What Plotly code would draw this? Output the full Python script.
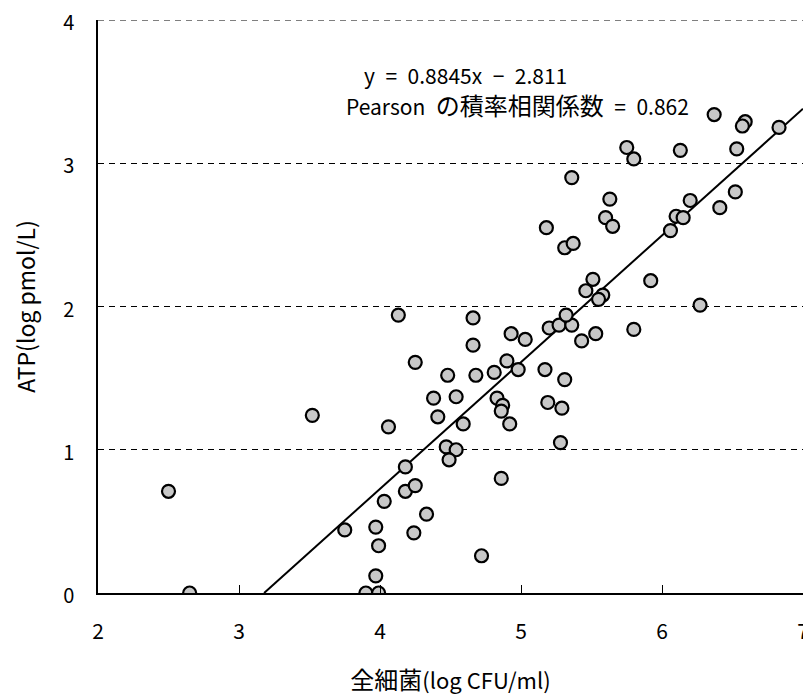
import plotly.graph_objects as go

# Data
x_vals = [2.50, 2.65, 3.52, 3.75, 3.90, 3.99, 3.97, 3.99, 3.97, 4.03,
          4.06, 4.18, 4.18, 4.25, 4.33, 4.24, 4.72, 4.86, 4.47, 4.54,
          4.49, 4.38, 4.54, 4.41, 4.59, 4.83, 4.87, 4.86, 4.92, 4.13,
          4.66, 4.66, 4.93, 5.03, 4.25, 4.48, 4.68, 4.81, 4.90, 4.98,
          5.17, 5.31, 5.19, 5.29, 5.28, 5.20, 5.27, 5.36, 5.32, 5.43,
          5.53, 5.80, 5.18, 5.31, 5.37, 5.60, 5.65, 6.10, 6.06, 5.51,
          5.46, 5.58, 5.55, 5.92, 6.27, 6.37, 6.59, 6.57, 6.83, 6.53,
          6.13, 5.75, 5.80, 5.36, 5.63, 6.52, 6.41, 6.20, 6.15]
y_vals = [0.71, 0.00, 1.24, 0.44, 0.00, 0.00, 0.12, 0.33, 0.46, 0.64,
          1.16, 0.88, 0.71, 0.75, 0.55, 0.42, 0.26, 0.80, 1.02, 1.00,
          0.93, 1.36, 1.37, 1.23, 1.18, 1.36, 1.31, 1.27, 1.18, 1.94,
          1.92, 1.73, 1.81, 1.77, 1.61, 1.52, 1.52, 1.54, 1.62, 1.56,
          1.56, 1.49, 1.33, 1.29, 1.05, 1.85, 1.87, 1.87, 1.94, 1.76,
          1.81, 1.84, 2.55, 2.41, 2.44, 2.62, 2.56, 2.63, 2.53, 2.19,
          2.11, 2.08, 2.05, 2.18, 2.01, 3.34, 3.29, 3.26, 3.25, 3.10,
          3.09, 3.11, 3.03, 2.90, 2.75, 2.80, 2.69, 2.74, 2.62]

slope = 0.8845
intercept = -2.811
r_value = 0.862

x_ticks = [2, 3, 4, 5, 6, 7]
y_ticks = [0, 1, 2, 3, 4]

FONT = "Noto Sans CJK JP"
SP = "\u2002"

x_start = -intercept / slope
x_end = 7
line_x = [x_start, x_end]
line_y = [slope * v + intercept for v in line_x]

fig = go.Figure()
fig.add_trace(go.Scatter(
    x=line_x, y=line_y, mode="lines",
    line=dict(color="black", width=2), hoverinfo="skip", showlegend=False))
fig.add_trace(go.Scatter(
    x=x_vals, y=y_vals, mode="markers",
    marker=dict(size=13, color="#c8c8c8", line=dict(color="black", width=2.2)),
    showlegend=False))

fig.add_annotation(x=0.3745, y=0.904, xref="paper", yref="paper",
                   xanchor="left", yanchor="middle", showarrow=False,
                   text=f"y{SP}={SP}{slope}x{SP}\u2212{SP}{abs(intercept)}",
                   font=dict(family=FONT, size=21, color="black"))
fig.add_annotation(x=0.349, y=0.853, xref="paper", yref="paper",
                   xanchor="left", yanchor="middle", showarrow=False,
                   text=(f"Pearson{SP}<span style='font-size:24px'>の積率相関係数</span>"
                         f"{SP}={SP}{r_value}"),
                   font=dict(family=FONT, size=21, color="black"))

# top dashed gridline at y = 4 (edge of the range)
fig.add_shape(type="line", xref="paper", yref="y", x0=0, x1=1,
              y0=y_ticks[-1], y1=y_ticks[-1],
              line=dict(color="black", width=1, dash="6px,5px"))

fig.update_layout(
    width=803, height=690,
    margin=dict(l=90, r=8, t=12, b=105),
    paper_bgcolor="white", plot_bgcolor="white",
    font=dict(family=FONT, color="black"),
    xaxis=dict(
        range=[2, 7], tickvals=x_ticks, ticktext=[str(v) for v in x_ticks],
        automargin=False, ticklabeloverflow="allow",
        showgrid=False, zeroline=False,
        showline=True, linecolor="black", linewidth=1.5,
        ticks="inside", ticklen=8, tickcolor="black", tickwidth=1,
        ticklabelstandoff=19,
        tickfont=dict(family=FONT, size=21, color="black"),
        title=dict(text="<span style='font-size:24px'>全細菌</span>(log CFU/ml)",
                   standoff=30,
                   font=dict(family=FONT, size=22, color="black")),
    ),
    yaxis=dict(
        range=[0, 4], tickvals=y_ticks, ticktext=[str(v) for v in y_ticks],
        automargin=False, ticklabeloverflow="allow",
        showgrid=True, gridcolor="black", gridwidth=1, griddash="6px,5px",
        zeroline=False,
        showline=True, linecolor="black", linewidth=1.5,
        ticks="", ticklabelstandoff=18, ticklabelshift=3,
        tickfont=dict(family=FONT, size=20, color="black"),
        title=dict(text="ATP(log pmol/L)", standoff=30,
                   font=dict(family=FONT, size=23, color="black")),
    ),
)

fig.write_html("out.html")
